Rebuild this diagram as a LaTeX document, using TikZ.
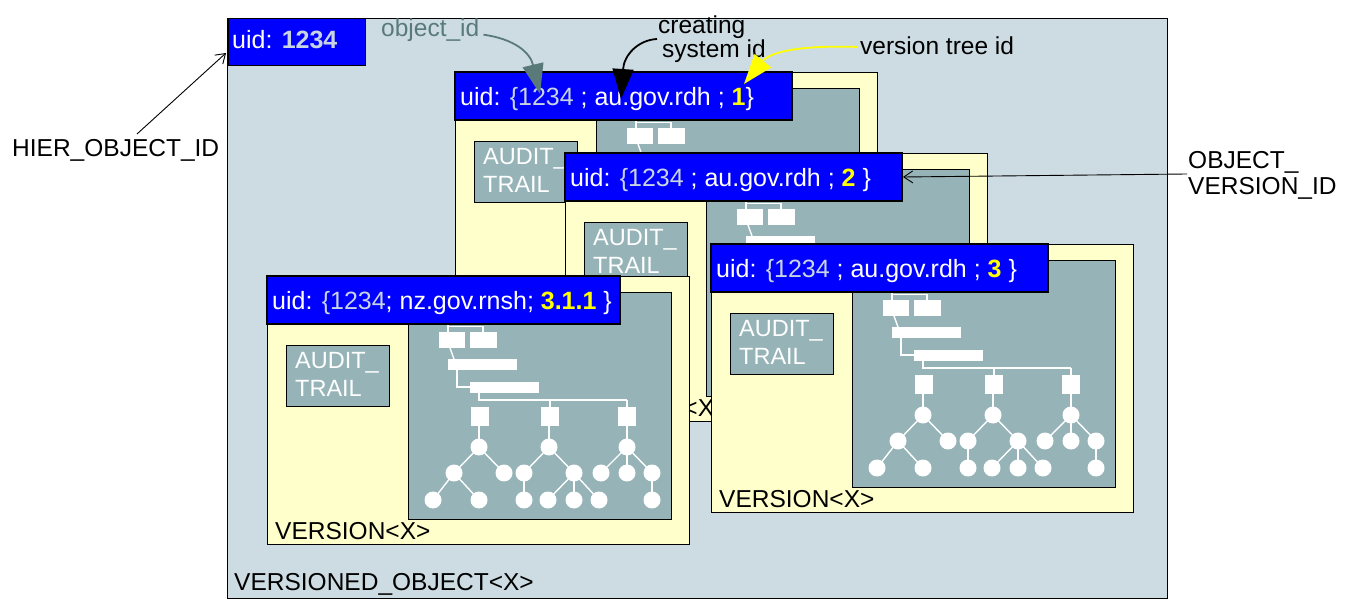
\documentclass[tikz,border=0pt]{standalone}
\usepackage{fontspec}
\setmainfont{Liberation Sans}
\usetikzlibrary{arrows.meta}
\definecolor{bgc}{RGB}{204,220,226}
\definecolor{yel}{RGB}{255,255,204}
\definecolor{pan}{RGB}{150,180,184}
\definecolor{hblue}{RGB}{0,0,255}
\definecolor{numc}{RGB}{200,212,228}
\definecolor{oidc}{RGB}{90,122,122}
\definecolor{ylw}{RGB}{255,255,0}
\tikzset{
  lbl/.style={font=\fontsize{24.5}{21}\selectfont, inner sep=0pt, align=left},
  hdrtxt/.style={font=\fontsize{25}{28}\selectfont, text=white, inner sep=0pt},
  audtxt/.style={font=\fontsize{23.5}{28}\selectfont, text=white, inner sep=0pt, align=left},
  vlbl/.style={font=\fontsize{24.5}{28}\selectfont, inner sep=0pt},
  tline/.style={white, line width=1.4pt},
  boxline/.style={draw=black, line width=0.9pt},
  hdrbox/.style={draw=black, line width=1.6pt, fill=hblue},
  bigarrow/.style={line width=1.8pt, -{Triangle[length=30pt,width=21pt]}},
  thinarrow/.style={line width=0.9pt, -{Straight Barb[length=9pt,width=12pt]}},
}
\newcommand\vnum[1]{\textcolor{numc}{#1}}
\newcommand\vid[1]{\textcolor{ylw}{\bfseries #1}}
% ox, oy, header width, header text, name
\newcommand\drawversion[5]{%
  \begin{scope}[shift={(#1,#2)}]
    \fill[yel, boxline] (0,0) rectangle (422,268);
    \fill[pan, boxline] (141,16) rectangle (404,243);
    % tree
    \draw[tline] (181,40) -- (181,56);
    \draw[tline] (181,50.5) -- (216,50.5) -- (216,56);
    \fill[white] (172,56) rectangle (198,72);
    \fill[white] (203,56) rectangle (230,72);
    \draw[tline] (183,72) -- (187,83);
    \fill[white] (181,83) rectangle (250,94);
    \draw[tline] (190,94) -- (190,111) -- (203,111);
    \fill[white] (203,106) rectangle (272,117);
    \draw[tline] (212,117) -- (212,124) -- (360,124);
    \draw[tline] (283,124) -- (283,131);
    \draw[tline] (360,124) -- (360,131);
    \foreach \x in {212,282,360} {
      \draw[tline] (\x,150) -- (\x,171);
    }
    \fill[white] (204,131) rectangle (222,150);
    \fill[white] (274,131) rectangle (292,150);
    \fill[white] (351,131) rectangle (369,150);
    % tree 1
    \draw[tline] (187,197) -- (212,171) -- (237,197);
    \draw[tline] (166,224) -- (187,197) -- (212,224);
    % tree 2
    \draw[tline] (257,197) -- (282,171) -- (307,197);
    \draw[tline] (257,197) -- (257,224);
    \draw[tline] (281,224) -- (307,197) -- (332,224);
    \draw[tline] (307,197) -- (307,224);
    % tree 3
    \draw[tline] (334,197) -- (360,171) -- (385,197);
    \draw[tline] (360,171) -- (360,197);
    \draw[tline] (385,197) -- (385,224);
    \foreach \p in {(212,171),(187,197),(237,197),(166,224),(212,224),
                    (282,171),(257,197),(307,197),(257,224),(281,224),(307,224),(332,224),
                    (360,171),(334,197),(360,197),(385,197),(385,224)} {
      \fill[white] \p circle (8.5);
    }
    % audit trail
    \fill[pan, boxline] (19,69) rectangle (122,130);
    \node[audtxt, anchor=north west] (#5a) at (28,76) {AUDIT\_\\TRAIL};
    % label
    \node[vlbl, anchor=base west] (#5l) at (8,263) {VERSION<X>};
    % header
    \fill[hdrbox] (0,0) rectangle (#3,48);
    \node[hdrtxt, anchor=base west] (#5h) at (5,34) {#4};
  \end{scope}%
}
\begin{document}
\begin{tikzpicture}[x=1pt,y=-1pt]
  \useasboundingbox (0,0) rectangle (1358,612);
  \fill[white] (0,0) rectangle (1358,612);
  % versioned object
  \fill[bgc, boxline] (227,18) rectangle (1167,598);
  \node[vlbl, anchor=base west] (vo) at (234,590) {VERSIONED\_OBJECT<X>};
  \fill[hdrbox, line width=1pt] (228,19) rectangle (365,66);
  \node[hdrtxt, anchor=base west] (hid) at (232,49) {uid: \textcolor{numc}{\bfseries 1234}};
  % versions
  \drawversion{455}{72}{337}{uid: \vnum{\{1234} ; au.gov.rdh ; \vid{1}\}}{vA}
  \drawversion{565}{153}{337}{uid: \vnum{\{1234} ; au.gov.rdh ; \vid{2} \}}{vB}
  \drawversion{267}{276}{353}{uid: \vnum{\{1234}; nz.gov.rnsh; \vid{3.1.1} \}}{vD}
  \drawversion{711}{244}{337}{uid: \vnum{\{1234} ; au.gov.rdh ; \vid{3} \}}{vC}
  % labels
  \node[lbl, text=oidc, anchor=base west] (oid) at (381,37) {object\_id};
  \node[lbl, anchor=north west] (csid) at (658,15.5) {creating\\\hspace*{4pt}system id};
  \node[lbl, anchor=base west] (vtid) at (860,55) {version tree id};
  \node[lbl, anchor=base west] (hoid) at (12,157) {HIER\_OBJECT\_ID};
  \node[lbl, anchor=north west, font=\fontsize{24.5}{26}\selectfont] (ovid) at (1188,151) {OBJECT\_\\VERSION\_ID};
  % arrow tips
  \coordinate (oidtip) at (540,94);
  \coordinate (cstip) at (621,99);
  \coordinate (vttip) at (744,84);
  \coordinate (hotip) at (226,53);
  \coordinate (hostart) at (137,134);
  \coordinate (ovtip) at (903,177);
  \coordinate (ovstart) at (1187,174);
  % arrows
  \draw[bigarrow, oidc] ([xshift=4pt,yshift=-4pt]oid.east) .. controls (514,39) and (530,52) .. (oidtip);
  \draw[bigarrow, black] ([xshift=-1pt]csid.west |- 0,39) .. controls (638,40) and (624,55) .. (cstip);
  \draw[bigarrow, ylw] ([xshift=-2pt]vtid.west |- 0,47) .. controls (800,45) and (770,52) .. (vttip);
  \draw[thinarrow] (hostart) -- (hotip);
  \draw[thinarrow] (ovstart) -- (ovtip);
\end{tikzpicture}
\end{document}
